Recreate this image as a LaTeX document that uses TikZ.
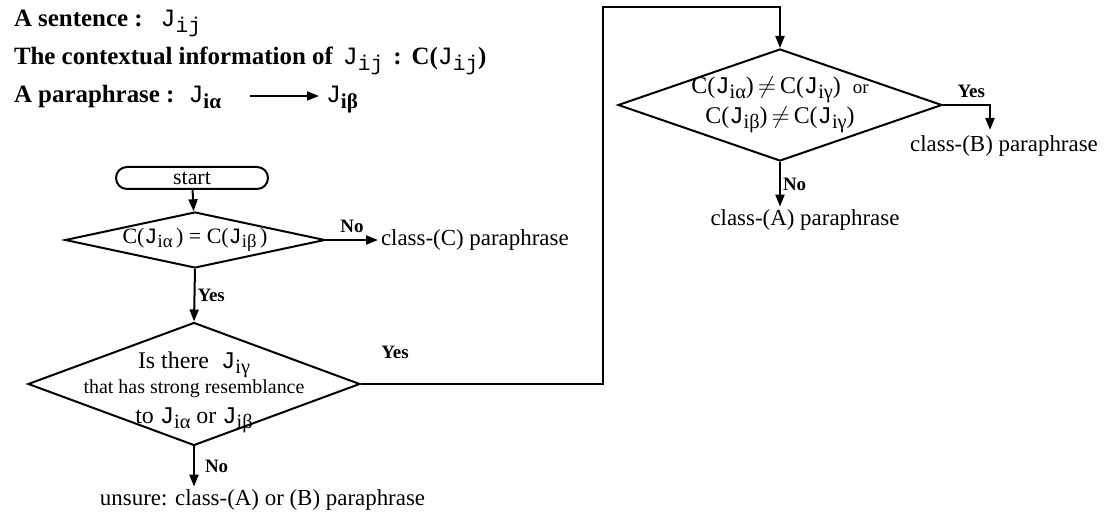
\documentclass[tikz,border=0pt]{standalone}
\usepackage{fontspec}
\setmainfont{Liberation Serif}
\newfontfamily\jfont{Liberation Mono}
\usepackage{graphicx}
\usepackage{tikz}
\usetikzlibrary{arrows.meta,positioning,shapes.geometric}
% J with a lowered subscript
\newcommand{\Jx}[1]{{\jfont\mdseries J}\raisebox{-0.45ex}{\scalebox{0.85}{#1}}}
\newcommand{\Jm}[1]{\Jx{\jfont\mdseries #1}}

\begin{document}
\begin{tikzpicture}[x=0.5bp,y=-0.5bp,line width=1bp,
    every node/.style={font=\fontsize{10.5}{12}\selectfont},
    arr/.style={-{Triangle[length=6bp,width=4.5bp]}},
    decide/.style={draw,diamond,inner xsep=-40bp,inner ysep=-6bp,aspect=2,align=center},
    note/.style={font=\fontsize{12.5}{14}\selectfont\bfseries,anchor=base west,inner sep=0pt},
    yn/.style={font=\fontsize{9.5}{11}\selectfont\bfseries,inner sep=1bp},
    result/.style={font=\fontsize{11.5}{13}\selectfont,inner sep=1bp}]
  \useasboundingbox (0,0) rectangle (1105,517);
  % legend
  \node[note] (sent) at (13,27) {A sentence :\hspace{9bp}\Jm{ij}};
  \node[note] (ctx) at (13,65) {The contextual information of\hspace{5bp}\Jm{ij}\hspace{5bp}:\hspace{5bp}C(\Jm{ij})};
  \node[note] (para) at (13,103) {A paraphrase :\hspace{7bp}\Jx{iα}};
  \node[note] (pb) at (325,103) {\Jx{iβ}};
  \draw[arr] ([xshift=14bp,yshift=3.5bp]para.base east) -- ([xshift=-3bp,yshift=3.5bp]pb.base west);
  % left column
  \node[draw,rounded corners=5.5bp,minimum width=76bp,minimum height=11bp,inner sep=0pt,
        font=\fontsize{11}{12}\selectfont] (start) at (192,178) {start};
  \node[decide,minimum width=130bp,minimum height=28bp,font=\fontsize{11}{13}\selectfont]
       (same) at (195,240) {C(\Jx{iα}\,) = C(\Jx{iβ}\,)};
  \node[result,anchor=west] (classC) at (378,240) {class-(C) paraphrase};
  \node[decide,minimum width=166bp,minimum height=61.5bp] (there) at (194,384)
       {{\fontsize{12}{13}\selectfont\rule{0pt}{16.5bp}Is there\enspace\Jx{iγ}}\\[0.5bp]
        {\fontsize{10}{12}\selectfont that has strong resemblance}\\[3bp]
        {\fontsize{12}{13}\selectfont to \Jx{iα} or \Jx{iβ}}};
  \node[result,anchor=west] (unsure) at (97,500) {unsure: class-(A) or (B) paraphrase};
  % right column
  \coordinate (corner) at (603,7);
  \node[decide,minimum width=162bp,minimum height=56bp,font=\fontsize{12}{15}\selectfont] (differ) at (780,105)
       {C(\Jx{iα})\,$\neq$\,C(\Jx{iγ})\enspace{\fontsize{9.5}{10}\selectfont or}\\
        C(\Jx{iβ})\,$\neq$\,C(\Jx{iγ})};
  \node[result] (classA) at (805,220) {class-(A) paraphrase};
  \node[result] (classB) at (1004,146) {class-(B) paraphrase};
  \coordinate (bend) at (990,130);
  % connectors
  \draw[arr] (start) -- (same);
  \draw[arr] (same.east) -- (classC.west) node[yn,midway,above=2bp] {No};
  \draw[arr] (same.south) -- (there.north) node[yn,midway,right] {Yes};
  \draw[arr] (there.south) -- (there.south |- unsure.north) node[yn,midway,right=4bp] {No};
  \draw[arr] (there.east) -| (corner) -| (differ.north);
  \node[yn] (loopyes) at (395,352) {Yes};
  \draw[arr] (differ.east) -| (bend) node[yn,pos=0.3,above=2bp] {Yes};
  \draw[arr] (differ.south) -- (differ.south |- classA.north) node[yn,midway,right] {No};
\end{tikzpicture}
\end{document}
